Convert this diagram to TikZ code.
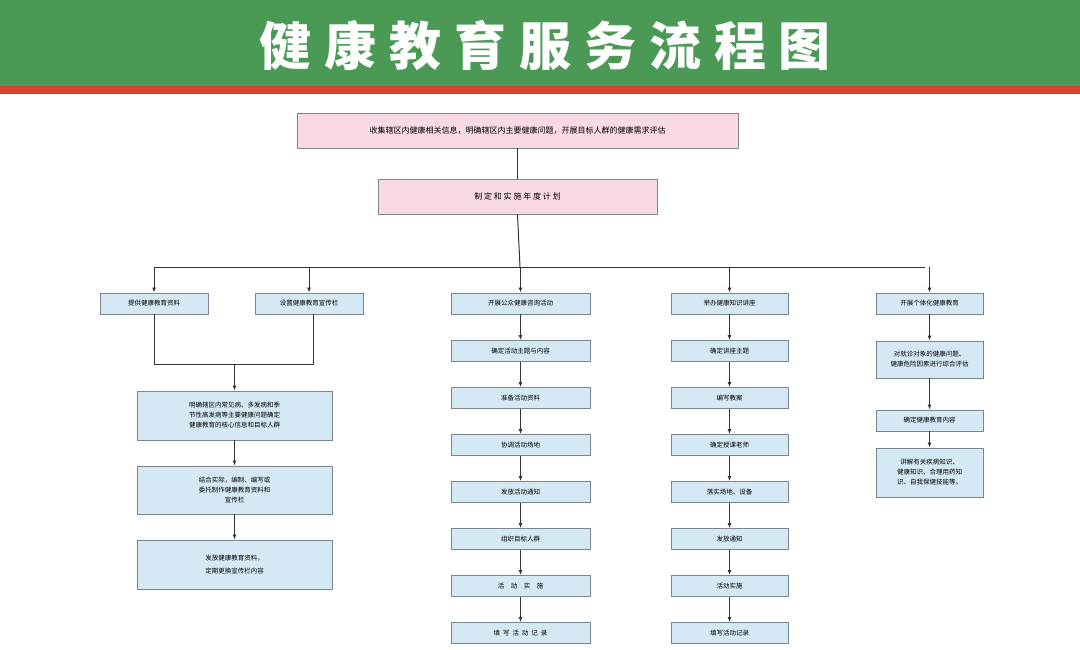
\documentclass[tikz,border=0pt]{standalone}
\usepackage{fontspec}
\setmainfont{Noto Sans CJK SC}
\newfontfamily\titlefont{Noto Sans CJK SC Black}
\usetikzlibrary{arrows.meta}
\definecolor{bannergreen}{HTML}{4A9A55}
\definecolor{bannerred}{HTML}{D9432E}
\definecolor{pinkbox}{HTML}{F9D9E2}
\definecolor{bluebox}{HTML}{D5E9F4}
\definecolor{boxline}{HTML}{7A8590}
\begin{document}
\begin{tikzpicture}[x=1pt,y=-1pt,
  box/.style={draw=boxline,line width=0.8pt,fill=bluebox,font=\fontsize{6.5}{10}\selectfont,align=center,inner sep=0pt},
  pbox/.style={box,fill=pinkbox,font=\fontsize{8}{10}\selectfont},
  conn/.style={draw=black!80,line width=1pt},
  arr/.style={conn,-{Latex[length=5pt,width=4pt]}}]
\useasboundingbox (0,0) rectangle (1080,650);
\fill[white] (0,0) rectangle (1080,650);
\fill[bannergreen] (0,0) rectangle (1080,86);
\fill[bannerred] (0,86) rectangle (1080,94);
\node[text=white,font=\titlefont\fontsize{52}{56}\selectfont] (title) at (545,45) {健\hspace{0.25em}康\hspace{0.25em}教\hspace{0.25em}育\hspace{0.25em}服\hspace{0.25em}务\hspace{0.25em}流\hspace{0.25em}程\hspace{0.25em}图};

\node[pbox,minimum width=441pt,minimum height=35pt] (t1) at (517.5,130.5) {收集辖区内健康相关信息，明确辖区内主要健康问题，开展目标人群的健康需求评估};
\node[pbox,minimum width=279pt,minimum height=35pt] (t2) at (517.5,196.5) {制\ 定\ 和\ 实\ 施\ 年\ 度\ 计\ 划};
\draw[conn] (t1) -- (t2);

\tikzset{rowbox/.style={box,minimum height=21pt}}
\node[rowbox,minimum width=108pt] (a) at (154,303.5) {提供健康教育资料};
\node[rowbox,minimum width=108pt] (b) at (309,303.5) {设置健康教育宣传栏};
\node[rowbox,minimum width=139pt] (c1) at (520.5,303.5) {开展公众健康咨询活动};
\node[rowbox,minimum width=117pt] (d1) at (729.5,303.5) {举办健康知识讲座};
\node[rowbox,minimum width=107pt] (e1) at (929.5,303.5) {开展个体化健康教育};

\coordinate (hl) at (154,267);
\coordinate (hr) at (925,267);
\draw[conn] (t2.south) -- (520,267);
\draw[conn] (hl) -- (hr);
\draw[arr] (hl) -- (a.north);
\draw[arr] (309,267) -- (b.north);
\draw[arr] (520.5,267) -- (c1.north);
\draw[arr] (729.5,267) -- (d1.north);
\draw[arr] (929.5,267) -- (e1.north);

% left column
\node[box,minimum width=195pt,minimum height=49pt] (l1) at (234.5,415.5) {明确辖区内常见病、多发病和季\\节性高发病等主要健康问题确定\\健康教育的核心信息和目标人群};
\node[box,minimum width=195pt,minimum height=48pt] (l2) at (234.5,490) {结合实际，编制、编写或\\委托制作健康教育资料和\\宣传栏};
\node[box,minimum width=195pt,minimum height=49pt,font=\fontsize{6.5}{13}\selectfont] (l3) at (234.5,564.5) {发放健康教育资料，\\定期更换宣传栏内容};
\coordinate (ja) at (154,364);
\coordinate (jb) at (313,364);
\draw[conn] (a.south) -- (ja) -- (jb) -- (313,314);
\draw[arr] (234.5,364) -- (l1.north);
\draw[arr] (l1) -- (l2);
\draw[arr] (l2) -- (l3);

% column C
\foreach \n/\y/\t in {c2/351/确定活动主题与内容,c3/398/准备活动资料,c4/445/协调活动场地,c5/492/发放活动通知,c6/539/组织目标人群,c7/586/活\quad 动\quad 实\quad 施,c8/633/填\ \ 写\ \ 活\ \ 动\ \ 记\ \ 录}
  \node[rowbox,minimum width=139pt] (\n) at (520.5,\y) {\t};
\foreach \p/\n in {c1/c2,c2/c3,c3/c4,c4/c5,c5/c6,c6/c7,c7/c8} \draw[arr] (\p) -- (\n);

% column D
\foreach \n/\y/\t in {d2/351/确定讲座主题,d3/398/编写教案,d4/445/确定授课老师,d5/492/落实场地、设备,d6/539/发放通知,d7/586/活动实施,d8/633/填写活动记录}
  \node[rowbox,minimum width=117pt] (\n) at (729.5,\y) {\t};
\foreach \p/\n in {d1/d2,d2/d3,d3/d4,d4/d5,d5/d6,d6/d7,d7/d8} \draw[arr] (\p) -- (\n);

% column E
\node[box,minimum width=107pt,minimum height=37pt] (e2) at (929.5,359.5) {对就诊对象的健康问题、\\健康危险因素进行综合评估};
\node[rowbox,minimum width=107pt] (e3) at (929.5,420.5) {确定健康教育内容};
\node[box,minimum width=107pt,minimum height=49pt] (e4) at (929.5,472.5) {讲解有关疾病知识、\\健康知识、合理用药知\\识、自我保健技能等。};
\draw[arr] (e1) -- (e2);
\draw[arr] (e2) -- (e3);
\draw[arr] (e3) -- (e4);
\end{tikzpicture}
\end{document}
